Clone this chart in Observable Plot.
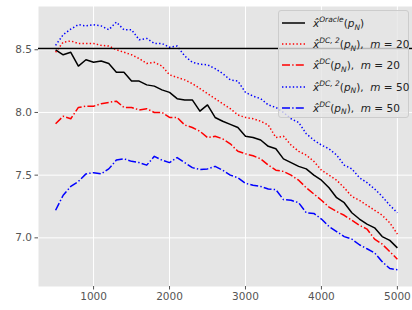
<!DOCTYPE html>
<html>
<head>
<meta charset="utf-8">
<script src="https://cdn.jsdelivr.net/npm/d3@7"></script>
<script src="https://cdn.jsdelivr.net/npm/@observablehq/plot@0.6"></script>
<style>
  html, body { margin: 0; padding: 0; background: #fff; }
  #wrap { position: relative; width: 412px; height: 310px; overflow: hidden; font-family: "DejaVu Sans", sans-serif; }
  #legend { position: absolute; left: 278px; top: 10px; width: 131px; height: 108px;
    background: rgba(229,229,229,0.8); border: 1px solid #cccccc; border-radius: 3px; box-sizing: border-box; }
  .entry { position: absolute; left: 0; height: 18px; width: 131px; }
  .entry svg { position: absolute; left: 3px; top: 3px; }
  .entry .lab { position: absolute; left: 34px; top: 0px; font-size: 10.5px; color: #222; white-space: nowrap; line-height: 18px; }
  .it { font-style: italic; }
  .sup { font-size: 7.5px; font-style: italic; position: relative; top: -5px; }
  .sub { font-size: 7.5px; font-style: italic; position: relative; top: 2.5px; }
</style>
</head>
<body>
<div id="wrap"><div id="chart"></div><div id="legend"></div></div>
<script>
const N = [500,600,700,800,900,1000,1100,1200,1300,1400,1500,1600,1700,1800,1900,2000,2100,2200,2300,2400,2500,2600,2700,2800,2900,3000,3100,3200,3300,3400,3500,3600,3700,3800,3900,4000,4100,4200,4300,4400,4500,4600,4700,4800,4900,5000];
const oracle = [8.50,8.46,8.48,8.37,8.42,8.40,8.41,8.39,8.32,8.32,8.25,8.25,8.22,8.21,8.18,8.16,8.11,8.10,8.10,8.01,8.06,7.96,7.93,7.905,7.88,7.81,7.80,7.78,7.73,7.71,7.63,7.60,7.57,7.55,7.50,7.46,7.40,7.32,7.28,7.20,7.15,7.11,7.08,7.01,6.98,6.92];
const dc2_20 = [8.48,8.56,8.57,8.55,8.55,8.55,8.535,8.53,8.50,8.48,8.46,8.43,8.39,8.40,8.37,8.30,8.28,8.26,8.23,8.19,8.15,8.11,8.07,8.03,7.98,7.96,7.95,7.93,7.90,7.80,7.81,7.74,7.69,7.66,7.61,7.54,7.50,7.46,7.40,7.33,7.30,7.26,7.22,7.18,7.12,7.03];
const dc_20 = [7.91,7.97,7.95,8.04,8.05,8.05,8.07,8.08,8.09,8.04,8.04,8.02,8.03,8.00,8.00,7.96,7.96,7.90,7.88,7.85,7.80,7.81,7.79,7.75,7.69,7.67,7.655,7.63,7.58,7.54,7.53,7.50,7.46,7.40,7.35,7.30,7.245,7.21,7.18,7.14,7.10,7.07,6.99,6.95,6.89,6.83];
const dc2_50 = [8.535,8.62,8.665,8.70,8.69,8.70,8.69,8.66,8.72,8.66,8.66,8.58,8.59,8.55,8.55,8.52,8.53,8.45,8.40,8.385,8.38,8.35,8.31,8.26,8.25,8.16,8.13,8.11,8.06,8.04,8.00,7.95,7.92,7.83,7.78,7.74,7.71,7.66,7.58,7.55,7.48,7.44,7.39,7.33,7.26,7.20];
const dc_50 = [7.22,7.34,7.41,7.45,7.51,7.52,7.51,7.55,7.62,7.63,7.61,7.60,7.58,7.65,7.62,7.60,7.64,7.60,7.56,7.545,7.55,7.57,7.54,7.50,7.48,7.435,7.42,7.41,7.39,7.385,7.305,7.30,7.28,7.20,7.195,7.15,7.09,7.05,7.01,6.99,6.945,6.913,6.88,6.81,6.755,6.745];
const oracleLevel = [8.51];
const xTicks = [1000,2000,3000,4000,5000];
const yTicks = [7.0,7.5,8.0,8.5];

const series = [
  {key: "oracle", values: oracle, color: "black", dash: null, label: "Oracle", m: null},
  {key: "dc2_20", values: dc2_20, color: "#ff0000", dash: "1.4,2.2", label: "DC, 2", m: "20"},
  {key: "dc_20", values: dc_20, color: "#ff0000", dash: "8,2.2,1.4,2.2", label: "DC", m: "20"},
  {key: "dc2_50", values: dc2_50, color: "#0000ff", dash: "1.4,2.2", label: "DC, 2", m: "50"},
  {key: "dc_50", values: dc_50, color: "#0000ff", dash: "8,2.2,1.4,2.2", label: "DC", m: "50"}
];

const lineMarks = series.map(s => Plot.line(N.map((n, i) => ({N: n, v: s.values[i]})), {
  x: "N", y: "v", stroke: s.color, strokeWidth: 1.5, strokeDasharray: s.dash || undefined, strokeLinecap: "butt"
}));

const chart = Plot.plot({
  width: 412,
  height: 310,
  marginLeft: 38,
  marginRight: 0,
  marginTop: 6,
  marginBottom: 24,
  style: {background: "transparent", fontFamily: "DejaVu Sans", fontSize: "10.5px", color: "#555555"},
  x: {domain: [275, 5199], axis: null, label: null},
  y: {domain: [6.612, 8.845], axis: null, label: null},
  marks: [
    Plot.frame({fill: "#e5e5e5", stroke: null}),
    Plot.gridX(xTicks, {stroke: "white", strokeOpacity: 1, strokeWidth: 1}),
    Plot.gridY(yTicks, {stroke: "white", strokeOpacity: 1, strokeWidth: 1}),
    ...lineMarks,
    Plot.ruleY(oracleLevel, {stroke: "black", strokeWidth: 1.6}),
    Plot.axisX(xTicks, {tickSize: 3.5, tickPadding: 3, stroke: "#555555", fill: "#555555", tickFormat: d => String(d), fontSize: 10.5, label: null}),
    Plot.axisY(yTicks, {tickSize: 3.5, tickPadding: 3, stroke: "#555555", fill: "#555555", tickFormat: d => d.toFixed(1), fontSize: 10.5, label: null})
  ]
});
document.getElementById("chart").appendChild(chart);

// legend
const legend = document.getElementById("legend");
series.forEach((s, i) => {
  const e = document.createElement("div");
  e.className = "entry";
  e.style.top = (3 + i * 21.2) + "px";
  const svgNS = "http://www.w3.org/2000/svg";
  const svg = document.createElementNS(svgNS, "svg");
  svg.setAttribute("width", "24"); svg.setAttribute("height", "12");
  const ln = document.createElementNS(svgNS, "line");
  ln.setAttribute("x1", "0"); ln.setAttribute("x2", "23"); ln.setAttribute("y1", "6"); ln.setAttribute("y2", "6");
  ln.setAttribute("stroke", s.color); ln.setAttribute("stroke-width", "1.5");
  if (s.dash) ln.setAttribute("stroke-dasharray", s.dash);
  svg.appendChild(ln);
  e.appendChild(svg);
  const lab = document.createElement("div");
  lab.className = "lab";
  let html = '<span class="it">x&#770;</span><span class="sup">' + s.label + '</span>(<span class="it">p</span><span class="sub">N</span>)';
  if (s.m) html += ',&nbsp; <span class="it">m</span> = ' + s.m;
  lab.innerHTML = html;
  e.appendChild(lab);
  legend.appendChild(e);
});
</script>
</body>
</html>
